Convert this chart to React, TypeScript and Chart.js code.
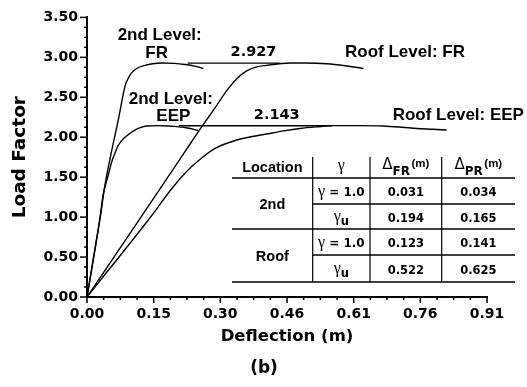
import React, { useEffect, useRef } from 'react';
import { Chart, registerables } from 'chart.js';

Chart.register(...registerables);

// ---------- DATA ----------
const xTickLabels = ['0.00', '0.15', '0.30', '0.46', '0.61', '0.76', '0.91'];
const yTickLabels = ['0.00', '0.50', '1.00', '1.50', '2.00', '2.50', '3.00', '3.50'];

// 2nd level, FR
const fr2X = [0, 0.018, 0.030, 0.041, 0.056, 0.072, 0.087, 0.0945, 0.102, 0.1135, 0.1326, 0.150, 0.171, 0.200, 0.224, 0.246, 0.266];
const fr2Y = [0, 0.58, 0.99, 1.40, 1.82, 2.23, 2.64, 2.74, 2.806, 2.86, 2.90, 2.92, 2.93, 2.925, 2.91, 2.89, 2.86];

// 2nd level, EEP
const eep2X = [0, 0.018, 0.030, 0.037, 0.0488, 0.0564, 0.064, 0.0716, 0.0869, 0.0985, 0.1097, 0.122, 0.136, 0.160, 0.186, 0.210, 0.230, 0.254];
const eep2Y = [0, 0.60, 1.00, 1.28, 1.53, 1.69, 1.80, 1.90, 2.00, 2.05, 2.09, 2.12, 2.14, 2.145, 2.14, 2.13, 2.115, 2.085];

// Roof level, FR
const frRoofX = [0, 0.148, 0.224, 0.266, 0.293, 0.319, 0.342, 0.365, 0.388, 0.41, 0.44, 0.464, 0.50, 0.548, 0.59, 0.632];
const frRoofY = [0, 1.20, 1.82, 2.16, 2.37, 2.58, 2.73, 2.83, 2.88, 2.90, 2.92, 2.93, 2.93, 2.92, 2.895, 2.86];

// Roof level, EEP
const eepRoofX = [0, 0.148, 0.19, 0.224, 0.26, 0.293, 0.334, 0.37, 0.41, 0.45, 0.487, 0.525, 0.563, 0.62, 0.677, 0.72, 0.754, 0.79, 0.822];
const eepRoofY = [0, 1.02, 1.33, 1.55, 1.73, 1.86, 1.95, 2.00, 2.04, 2.08, 2.11, 2.13, 2.145, 2.145, 2.14, 2.125, 2.11, 2.10, 2.09];

// Reference lines at the peak values
const peakFrX = [0.23, 0.44];
const peakFrY = [2.927, 2.927];
const peakEepX = [0.21, 0.56];
const peakEepY = [2.143, 2.143];

// Annotation texts (placed at data coordinates)
const noteTexts = ['2nd Level:', 'FR', '2nd Level:', 'EEP', '2.927', 'Roof Level: FR', '2.143', 'Roof Level: EEP'];
const noteX = [0.1662, 0.1593, 0.1916, 0.1973, 0.3806, 0.7270, 0.4337, 0.8488];
const noteY = [3.279, 3.053, 2.475, 2.262, 3.065, 3.065, 2.274, 2.274];

// Table
const tableLocations = ['2nd', 'Roof'];
const tableGammaRows = ['1.0', 'u', '1.0', 'u'];
const tableDeltaFR = ['0.031', '0.194', '0.123', '0.522'];
const tableDeltaPR = ['0.034', '0.165', '0.141', '0.625'];

// ---------- HELPERS ----------
const toPoints = (xs: number[], ys: number[]) => xs.map((x, i) => ({ x, y: ys[i] }));

const BOLD_SANS = '"Liberation Sans", Arial, sans-serif';
const DEJAVU = '"DejaVu Sans", sans-serif';
const SERIF = '"Liberation Serif", "DejaVu Serif", serif';

type Part = { text: string; font: string; dy?: number; gap?: number };

function drawParts(ctx: CanvasRenderingContext2D, parts: Part[], cx: number, baseline: number) {
  let total = 0;
  const widths = parts.map((p) => {
    ctx.font = p.font;
    const w = ctx.measureText(p.text).width + (p.gap || 0);
    total += w;
    return w;
  });
  let x = cx - total / 2;
  ctx.textAlign = 'left';
  ctx.textBaseline = 'alphabetic';
  parts.forEach((p, i) => {
    ctx.font = p.font;
    ctx.fillText(p.text, x + (p.gap || 0), baseline + (p.dy || 0));
    x += widths[i];
  });
}

const ticksPlugin = {
  id: 'customTicks',
  afterDraw(chart: any) {
    const { ctx, chartArea } = chart;
    const xs = chart.scales.x;
    const ys = chart.scales.y;
    ctx.save();
    ctx.strokeStyle = '#000';
    ctx.lineWidth = 1.5;
    xs.ticks.forEach((t: any, i: number) => {
      const px = xs.getPixelForValue(t.value);
      const len = i % 4 === 0 ? 6 : 3;
      ctx.beginPath();
      ctx.moveTo(px, chartArea.bottom);
      ctx.lineTo(px, chartArea.bottom + len);
      ctx.stroke();
    });
    ys.ticks.forEach((t: any, i: number) => {
      const py = ys.getPixelForValue(t.value);
      const len = i % 4 === 0 ? 7 : 3;
      ctx.beginPath();
      ctx.moveTo(chartArea.left, py);
      ctx.lineTo(chartArea.left - len, py);
      ctx.stroke();
    });
    ctx.restore();
  },
};

const notesPlugin = {
  id: 'notes',
  afterDraw(chart: any) {
    const { ctx } = chart;
    const xs = chart.scales.x;
    const ys = chart.scales.y;
    ctx.save();
    ctx.fillStyle = '#000';
    ctx.textAlign = 'center';
    ctx.textBaseline = 'middle';
    noteTexts.forEach((t, i) => {
      const isNum = /^[0-9.]+$/.test(t);
      ctx.font = isNum ? `bold 14.5px ${DEJAVU}` : `bold 17px ${BOLD_SANS}`;
      ctx.fillText(t, xs.getPixelForValue(noteX[i]), ys.getPixelForValue(noteY[i]));
    });
    // sub-caption
    ctx.font = `bold 17px ${DEJAVU}`;
    ctx.textBaseline = 'alphabetic';
    ctx.fillText('(b)', 264, 373);
    ctx.restore();
  },
};

const tablePlugin = {
  id: 'table',
  afterDraw(chart: any) {
    const ctx: CanvasRenderingContext2D = chart.ctx;
    const cols = [232, 312.7, 370, 441.7, 515];
    const rows = [157, 178, 204, 229, 255, 282];
    ctx.save();
    ctx.strokeStyle = '#000';
    ctx.fillStyle = '#000';
    ctx.lineWidth = 1.5;
    const hline = (y: number, x0: number, x1: number) => {
      ctx.beginPath();
      ctx.moveTo(x0, y);
      ctx.lineTo(x1, y);
      ctx.stroke();
    };
    const vline = (x: number, y0: number, y1: number) => {
      ctx.beginPath();
      ctx.moveTo(x, y0);
      ctx.lineTo(x, y1);
      ctx.stroke();
    };
    hline(rows[1], cols[0], cols[4]);
    hline(rows[2], cols[1], cols[4]);
    hline(rows[3], cols[0], cols[4]);
    hline(rows[4], cols[1], cols[4]);
    hline(rows[5], cols[0], cols[4]);
    ctx.lineWidth = 1.2;
    vline(cols[1], rows[0], rows[5]);
    vline(cols[2], rows[0], rows[5]);
    vline(cols[3], rows[0], rows[5]);

    const cx = (c: number) => (cols[c] + cols[c + 1]) / 2;

    // header
    drawParts(ctx, [{ text: 'Location', font: `bold 14.5px ${BOLD_SANS}` }], cx(0), 172);
    drawParts(ctx, [{ text: 'γ', font: `16px ${SERIF}` }], cx(1), 170);
    drawParts(
      ctx,
      [
        { text: 'Δ', font: `15px ${DEJAVU}` },
        { text: 'FR', font: `bold 12px ${DEJAVU}`, dy: 6.5 },
        { text: '(m)', font: `bold 11.5px ${BOLD_SANS}`, dy: -2, gap: 1.5 },
      ],
      cx(2),
      168.5
    );
    drawParts(
      ctx,
      [
        { text: 'Δ', font: `15px ${DEJAVU}` },
        { text: 'PR', font: `bold 12px ${DEJAVU}`, dy: 6.5 },
        { text: '(m)', font: `bold 11.5px ${BOLD_SANS}`, dy: -2, gap: 1.5 },
      ],
      cx(3),
      168.5
    );

    // location cells
    tableLocations.forEach((loc, i) => {
      const top = rows[1 + i * 2];
      const bottom = rows[3 + i * 2];
      drawParts(ctx, [{ text: loc, font: `bold 14.5px ${BOLD_SANS}` }], cx(0), (top + bottom) / 2 + 5);
    });

    // data rows
    tableGammaRows.forEach((g, i) => {
      const mid = (rows[1 + i] + rows[2 + i]) / 2;
      const base = mid + 5;
      if (g === 'u') {
        drawParts(
          ctx,
          [
            { text: 'γ', font: `16px ${SERIF}` },
            { text: 'u', font: `bold 11.5px ${DEJAVU}`, dy: 4 },
          ],
          cx(1),
          base - 1
        );
      } else {
        drawParts(
          ctx,
          [
            { text: 'γ', font: `16px ${SERIF}` },
            { text: ' = ' + g, font: `bold 12px ${DEJAVU}` },
          ],
          cx(1),
          base
        );
      }
      drawParts(ctx, [{ text: tableDeltaFR[i], font: `bold 11.5px ${DEJAVU}` }], cx(2), base);
      drawParts(ctx, [{ text: tableDeltaPR[i], font: `bold 11.5px ${DEJAVU}` }], cx(3), base);
    });
    ctx.restore();
  },
};

const X_MAX = 0.9144;
const X_MINOR = 0.0381;
const Y_MAX = 3.5;
const Y_MINOR = 0.125;

export default function App() {
  const canvasRef = useRef<HTMLCanvasElement | null>(null);

  useEffect(() => {
    if (!canvasRef.current) return;
    const lineStyle = {
      borderColor: '#000',
      backgroundColor: '#000',
      borderWidth: 1.4,
      pointRadius: 0,
      showLine: true,
      fill: false,
    };
    const chart = new Chart(canvasRef.current, {
      type: 'scatter',
      data: {
        datasets: [
          { ...lineStyle, label: '2nd Level: FR', data: toPoints(fr2X, fr2Y), cubicInterpolationMode: 'monotone' },
          { ...lineStyle, label: '2nd Level: EEP', data: toPoints(eep2X, eep2Y), cubicInterpolationMode: 'monotone' },
          { ...lineStyle, label: 'Roof Level: FR', data: toPoints(frRoofX, frRoofY), cubicInterpolationMode: 'monotone' },
          { ...lineStyle, label: 'Roof Level: EEP', data: toPoints(eepRoofX, eepRoofY), cubicInterpolationMode: 'monotone' },
          { ...lineStyle, label: '2.927', data: toPoints(peakFrX, peakFrY) },
          { ...lineStyle, label: '2.143', data: toPoints(peakEepX, peakEepY) },
        ],
      } as any,
      options: {
        animation: false,
        responsive: true,
        maintainAspectRatio: false,
        layout: { padding: { top: 14, right: 40, left: 0, bottom: 0 } },
        plugins: {
          legend: { display: false },
          tooltip: { enabled: false },
        },
        scales: {
          x: {
            type: 'linear',
            min: 0,
            max: X_MAX,
            grid: { display: false, drawTicks: false },
            border: { display: true, color: '#000', width: 2 },
            afterBuildTicks: (scale: any) => {
              const t = [];
              for (let i = 0; i <= 24; i++) t.push({ value: Math.min(i * X_MINOR, X_MAX) });
              scale.ticks = t;
            },
            afterFit: (scale: any) => {
              scale.height = 90;
            },
            ticks: {
              autoSkip: false,
              maxRotation: 0,
              padding: 9,
              color: '#000',
              font: { family: DEJAVU, weight: 'bold', size: 14 },
              callback: (_v: any, i: number) => (i % 4 === 0 ? xTickLabels[i / 4] : ''),
            },
            title: {
              display: true,
              text: 'Deflection (m)',
              color: '#000',
              font: { family: DEJAVU, weight: 'bold', size: 16.5 },
              padding: { top: 0, bottom: 40 },
            },
          },
          y: {
            type: 'linear',
            min: 0,
            max: Y_MAX,
            grid: { display: false, drawTicks: false },
            border: { display: true, color: '#000', width: 2 },
            afterBuildTicks: (scale: any) => {
              const t = [];
              for (let i = 0; i <= 28; i++) t.push({ value: i * Y_MINOR });
              scale.ticks = t;
            },
            afterFit: (scale: any) => {
              scale.width = 87;
            },
            ticks: {
              autoSkip: false,
              padding: 9,
              color: '#000',
              font: { family: DEJAVU, weight: 'bold', size: 14 },
              callback: (_v: any, i: number) => (i % 4 === 0 ? yTickLabels[i / 4] : ''),
            },
            title: {
              display: true,
              text: 'Load Factor',
              color: '#000',
              font: { family: DEJAVU, weight: 'bold', size: 18.5 },
              padding: { top: 9, bottom: 0 },
            },
          },
        },
      } as any,
      plugins: [ticksPlugin, notesPlugin, tablePlugin],
    });
    return () => chart.destroy();
  }, []);

  return (
    <div style={{ position: 'fixed', left: 0, top: 0, width: 527, height: 387, background: '#fff' }}>
      <canvas ref={canvasRef} />
    </div>
  );
}
